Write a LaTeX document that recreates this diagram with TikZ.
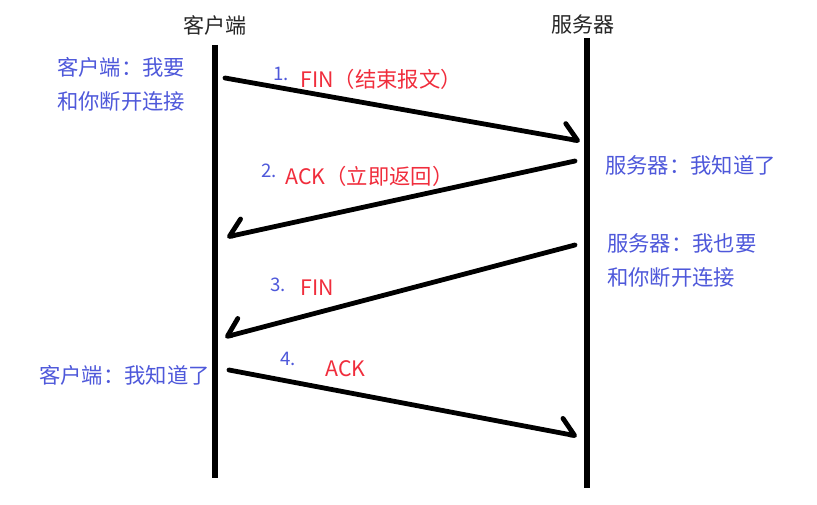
\documentclass[tikz,border=0pt]{standalone}
\usepackage{fontspec}
\setmainfont{Noto Sans CJK SC}
\usetikzlibrary{arrows.meta}

\definecolor{noteblue}{RGB}{78,88,218}
\definecolor{msgred}{RGB}{240,45,60}

\begin{document}
\begin{tikzpicture}[x=0.75pt, y=-0.75pt,
      title/.style={inner sep=0pt, text=black!85, font=\fontsize{15.8}{20}\selectfont},
      note/.style={inner sep=0pt, text=noteblue, align=left,
                   font=\fontsize{16}{25.5}\selectfont},
      num/.style={inner sep=0pt, text=noteblue, font=\fontsize{14}{16}\selectfont},
      lbl/.style={inner sep=0pt, text=msgred, font=\fontsize{16}{18}\selectfont},
      life/.style={line width=3.8pt},
      msg/.style={line width=3.6pt, line cap=round,
                  -{Straight Barb[harpoon, length=11pt, width=22pt, line cap=round, line join=round]}},
      msgback/.style={line width=3.6pt, line cap=round,
                  -{Straight Barb[harpoon, swap, length=11pt, width=22pt, line cap=round, line join=round]}},
    ]
    \useasboundingbox (0,0) rectangle (817,505);

    % lifelines
    \node[title] (client) at (215,25) {客户端};
    \node[title] (server) at (583,25) {服务器};
    \coordinate (c-top) at (215,45);
    \coordinate (c-bot) at (215,478);
    \coordinate (s-top) at (587,38);
    \coordinate (s-bot) at (587,488);
    \draw[life] (c-top) -- (c-bot);
    \draw[life] (s-top) -- (s-bot);

    % message end points
    \coordinate (m1-a) at (225,78);  \coordinate (m1-b) at (580,141);
    \coordinate (m2-a) at (575,161); \coordinate (m2-b) at (227,237);
    \coordinate (m3-a) at (575,245); \coordinate (m3-b) at (225,337);
    \coordinate (m4-a) at (229,370); \coordinate (m4-b) at (577,436);

    \draw[msg]     (m1-a) -- (m1-b);
    \draw[msgback] (m2-a) -- (m2-b);
    \draw[msgback] (m3-a) -- (m3-b);
    \draw[msg]     (m4-a) -- (m4-b);

    % labels
    \node[num] (n1) at (281,74)  {1.};
    \node[lbl, anchor=west] (l1) at (300,79)  {FIN（结束报文）};
    \node[num] (n2) at (269,171) {2.};
    \node[lbl, anchor=west] (l2) at (285,176) {ACK（立即返回）};
    \node[num] (n3) at (278,285) {3.};
    \node[lbl, anchor=west] (l3) at (300,288) {FIN};
    \node[num] (n4) at (288,359) {4.};
    \node[lbl, anchor=west] (l4) at (325,369) {ACK};

    % notes
    \node[note, anchor=west] (c-note1) at (57,84)   {客户端：我要\\和你断开连接};
    \node[note, anchor=west] (s-note1) at (605,165) {服务器：我知道了};
    \node[note, anchor=west] (s-note2) at (607,260) {服务器：我也要\\和你断开连接};
    \node[note, anchor=east] (c-note2) at (210,375) {客户端：我知道了};
  \end{tikzpicture}
\end{document}
